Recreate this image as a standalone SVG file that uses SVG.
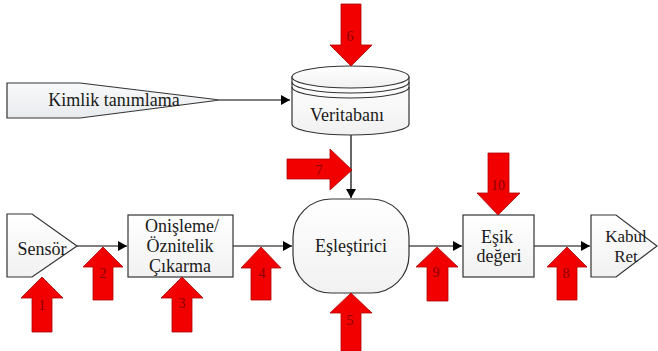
<svg xmlns="http://www.w3.org/2000/svg" width="658" height="351" viewBox="0 0 658 351">
<defs>
<linearGradient id="g" x1="0" y1="0" x2="0" y2="1">
<stop offset="0" stop-color="#ffffff"/>
<stop offset="1" stop-color="#f1f1f1"/>
</linearGradient>
<linearGradient id="gk" x1="0" y1="0" x2="0" y2="1">
<stop offset="0" stop-color="#f8f9fa"/>
<stop offset="1" stop-color="#e8ebee"/>
</linearGradient>
<marker id="ah" markerWidth="10" markerHeight="10" refX="9" refY="5" orient="auto" markerUnits="userSpaceOnUse">
<path d="M0,0 L9,5 L0,10 Z" fill="#000"/>
</marker>
</defs>
<style>
.n{fill:url(#g);stroke:#333;stroke-width:1.2}
.t{font-family:'Liberation Serif','DejaVu Serif',serif;font-size:18px;fill:#1a1a1a;text-anchor:middle}
.c{fill:none;stroke:#000;stroke-width:1.2;marker-end:url(#ah)}
.r{fill:#f20000;stroke:#b00000;stroke-width:0.8}
.l{font-family:'Liberation Serif','DejaVu Serif',serif;font-size:14px;fill:#8b0000;text-anchor:middle}
</style>
<rect width="658" height="351" fill="#fff"/>
<g id="connectors">
<path class="c" d="M220,100 L290,100"/>
<path class="c" d="M351,135 L351,198"/>
<path class="c" d="M77,246 L127,246"/>
<path class="c" d="M233,246 L292,246"/>
<path class="c" d="M409,246 L462,246"/>
<path class="c" d="M534,246 L590,246"/>
</g>
<g id="kimlik">
<path d="M7,83 L80,83 L220,100 L80,118 L7,118 Z" fill="url(#gk)" stroke="#333" stroke-width="1.2"/>
<text class="t" x="114" y="106">Kimlik tanımlama</text>
</g>
<g id="veritabani">
<path class="n" d="M292,77 L292,124 A58.5,11 0 0 0 409,124 L409,77 Z"/>
<ellipse class="n" cx="350.5" cy="77" rx="58.5" ry="11"/>
<path d="M292,82 A58.5,11 0 0 0 409,82 M292,87 A58.5,11 0 0 0 409,87" fill="none" stroke="#333" stroke-width="1.2"/>
<text class="t" x="347" y="121">Veritabanı</text>
</g>
<g id="sensor">
<path class="n" d="M7,214 L32,214 L77,246 L32,277 L7,277 Z"/>
<text class="t" x="42" y="255">Sensör</text>
</g>
<g id="onisleme">
<rect class="n" x="128" y="215" width="105" height="62"/>
<text class="t" x="182" y="232">Onişleme/</text>
<text class="t" x="180" y="252">Öznitelik</text>
<text class="t" x="180" y="272">Çıkarma</text>
</g>
<g id="eslestirici">
<rect class="n" x="293" y="199" width="116" height="94" rx="38" ry="38"/>
<text class="t" x="351" y="252">Eşleştirici</text>
</g>
<g id="esik">
<rect class="n" x="463" y="215" width="71" height="62"/>
<text class="t" x="497" y="243">Eşik</text>
<text class="t" x="499" y="262">değeri</text>
</g>
<g id="kabul">
<path class="n" d="M591,215 L616,215 L657,246 L616,277 L591,277 Z"/>
<text class="t" x="626" y="242" style="font-size:17px">Kabul</text>
<text class="t" x="626" y="262" style="font-size:17px">Ret</text>
</g>
<g id="arrow1">
<path class="r" d="M42,277 L63,298 L52,298 L52,332 L32,332 L32,298 L21,298 Z"/>
<text class="l" x="42" y="310">1</text>
</g>
<g id="arrow2">
<path class="r" d="M103,247 L123,267 L113,267 L113,300 L93,300 L93,267 L83,267 Z"/>
<text class="l" x="103" y="278">2</text>
</g>
<g id="arrow3">
<path class="r" d="M182,277 L203,298 L192,298 L192,332 L172,332 L172,298 L161,298 Z"/>
<text class="l" x="182" y="308">3</text>
</g>
<g id="arrow4">
<path class="r" d="M261,247 L281,268 L271,268 L271,300 L251,300 L251,268 L241,268 Z"/>
<text class="l" x="262" y="278">4</text>
</g>
<g id="arrow5">
<path class="r" d="M351,293 L372,313 L361,313 L361,351 L341,351 L341,313 L330,313 Z"/>
<text class="l" x="350" y="325">5</text>
</g>
<g id="arrow6">
<path class="r" d="M351,66 L372,45 L361,45 L361,4 L341,4 L341,45 L330,45 Z"/>
<text class="l" x="350" y="41">6</text>
</g>
<g id="arrow7">
<path class="r" d="M352,170 L330,190 L330,179 L287,179 L287,159 L330,159 L330,149 Z"/>
<text class="l" x="319" y="175">7</text>
</g>
<g id="arrow8">
<path class="r" d="M567,247 L587,267 L577,267 L577,300 L557,300 L557,267 L547,267 Z"/>
<text class="l" x="566" y="278">8</text>
</g>
<g id="arrow9">
<path class="r" d="M437,247 L458,267 L448,267 L448,301 L427,301 L427,267 L416,267 Z"/>
<text class="l" x="436" y="277">9</text>
</g>
<g id="arrow10">
<path class="r" d="M498,215 L520,193 L509,193 L509,153 L488,153 L488,193 L477,193 Z"/>
<text class="l" x="498" y="190">10</text>
</g>
</svg>
